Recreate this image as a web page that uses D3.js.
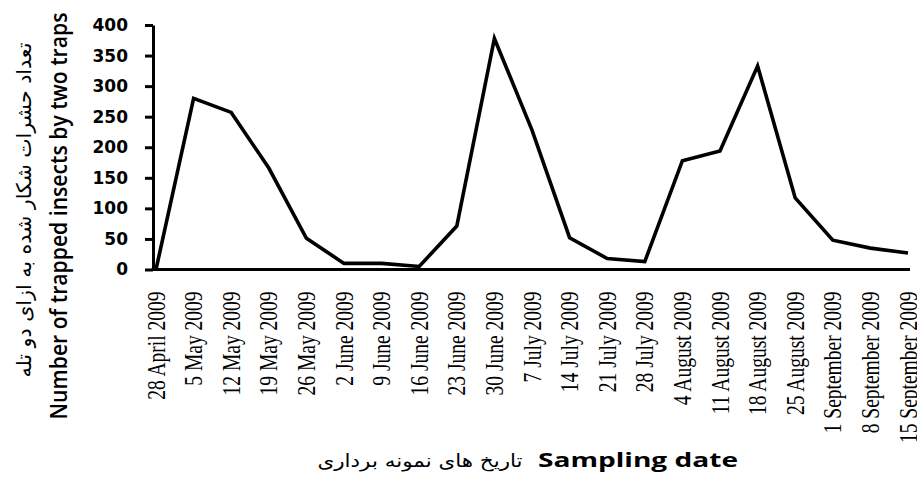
<!DOCTYPE html>
<html>
<head>
<meta charset="utf-8">
<script src="https://cdn.jsdelivr.net/npm/d3@7"></script>
<style>
  body { margin: 0; background: #fff; }
  svg { display: block; }
</style>
</head>
<body>
<div id="chart"></div>
<script>
// sampling dates (x categories)
const dates = [
    "28 April 2009", "5 May 2009", "12 May 2009", "19 May 2009", "26 May 2009",
    "2 June 2009", "9 June 2009", "16 June 2009", "23 June 2009", "30 June 2009",
    "7 July 2009", "14 July 2009", "21 July 2009", "28 July 2009", "4 August 2009",
    "11 August 2009", "18 August 2009", "25 August 2009", "1 September 2009",
    "8 September 2009", "15 September 2009"
];
// number of trapped insects (two traps)
const insects = [0, 280, 257, 166, 51, 10, 10, 5, 71, 378, 228, 52, 18, 13, 178, 194, 333, 117, 48, 35, 27];
const yTicks = [0, 50, 100, 150, 200, 250, 300, 350, 400];

const width = 917, height = 478;

const svg = d3.select("#chart").append("svg")
    .attr("width", width)
    .attr("height", height);

const x = d3.scalePoint()
    .domain(dates)
    .range([156, 908]);

const y = d3.scaleLinear()
    .domain([0, 400])
    .range([269.5, 25]);

// y axis
const yAxis = svg.append("g")
    .attr("transform", "translate(153,0)")
    .call(d3.axisLeft(y).tickValues(yTicks).tickSize(8).tickPadding(17).tickSizeOuter(0));
yAxis.select(".domain").attr("stroke", "#000").attr("stroke-width", 3);
yAxis.selectAll(".tick line").attr("stroke", "#000").attr("stroke-width", 3);
yAxis.selectAll(".tick text")
    .attr("fill", "#000")
    .style("font-family", "'DejaVu Sans', sans-serif")
    .style("font-weight", "700")
    .style("font-size", "17px");

// x axis
const xAxis = svg.append("g")
    .attr("transform", `translate(0,${y(0)})`)
    .call(d3.axisBottom(x).tickSize(0).tickPadding(0));
xAxis.select(".domain")
    .attr("d", `M151.5,0H910`)
    .attr("stroke", "#000").attr("stroke-width", 3);
xAxis.selectAll(".tick text")
    .attr("fill", "#000")
    .attr("transform", "rotate(-90) scale(1,1.25)")
    .attr("text-anchor", "end")
    .attr("x", -22)
    .attr("y", 0)
    .attr("dy", "0.33em")
    .style("font-family", "'Liberation Serif', serif")
    .style("font-size", "19.5px");

// line
const line = d3.line()
    .x((d, i) => x(dates[i]))
    .y(d => y(d));

svg.append("path")
    .datum(insects)
    .attr("fill", "none")
    .attr("stroke", "#000")
    .attr("stroke-width", 3.6)
    .attr("stroke-linejoin", "miter")
    .attr("d", line);

// y axis titles
svg.append("text")
    .attr("transform", "translate(67,216) rotate(-90) scale(1,1.3)")
    .attr("text-anchor", "middle")
    .attr("textLength", 407)
    .attr("lengthAdjust", "spacingAndGlyphs")
    .style("font-family", "'Open Sans', sans-serif")
    .style("font-size", "18px")
    .style("font-weight", "600")
    .text("Number of trapped insects by two traps");

svg.append("text")
    .attr("transform", "translate(31,210) rotate(-90) scale(1,1.2)")
    .attr("text-anchor", "middle")
    .attr("direction", "rtl")
    .attr("textLength", 335)
    .attr("lengthAdjust", "spacingAndGlyphs")
    .style("font-family", "'DejaVu Sans', sans-serif")
    .style("font-size", "17px")
    .text("تعداد حشرات شکار شده به ازای دو تله");

// x axis title: Persian part, then English part
svg.append("text")
    .attr("x", 420)
    .attr("y", 467)
    .attr("direction", "rtl")
    .attr("text-anchor", "middle")
    .attr("textLength", 205)
    .attr("lengthAdjust", "spacingAndGlyphs")
    .style("font-family", "'DejaVu Sans', sans-serif")
    .style("font-size", "18px")
    .text("تاریخ های نمونه برداری");

svg.append("text")
    .attr("x", 638)
    .attr("y", 467)
    .attr("text-anchor", "middle")
    .attr("textLength", 200)
    .attr("lengthAdjust", "spacingAndGlyphs")
    .style("font-family", "'Open Sans', sans-serif")
    .style("font-weight", "700")
    .style("font-size", "20px")
    .text("Sampling date");
</script>
</body>
</html>
